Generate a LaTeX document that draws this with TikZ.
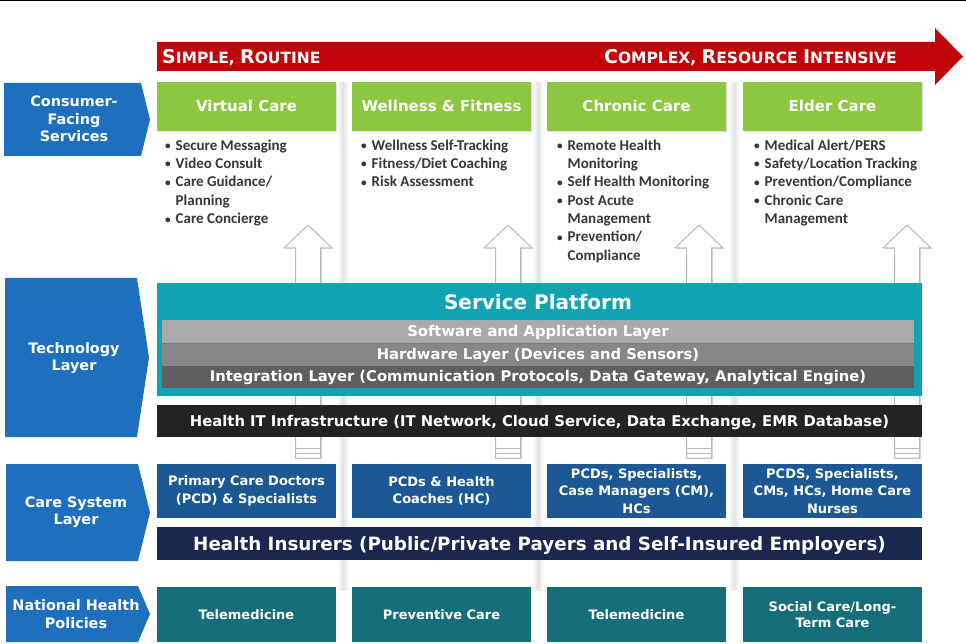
\documentclass[tikz,border=0pt]{standalone}
\usepackage{fontspec}
\setmainfont{DejaVu Sans}
\newfontfamily\carl{Carlito}
\usetikzlibrary{shadows}
\definecolor{redA}{RGB}{192,4,10}
\definecolor{greenA}{RGB}{141,198,63}
\definecolor{blueL}{RGB}{30,112,190}
\definecolor{tealP}{RGB}{18,163,178}
\definecolor{grayLa}{RGB}{170,170,170}
\definecolor{grayLb}{RGB}{135,135,135}
\definecolor{grayLc}{RGB}{95,95,95}
\definecolor{hitc}{RGB}{35,35,35}
\definecolor{careb}{RGB}{28,88,148}
\definecolor{insc}{RGB}{26,40,80}
\definecolor{polc}{RGB}{21,110,122}
\definecolor{bullc}{RGB}{55,55,55}
\newcommand\bigsc[1]{{\fontsize{19}{19}\selectfont #1}}
\newcommand\smsc[1]{{\fontsize{15.5}{15.5}\selectfont #1}}
\newcommand\bul{\makebox[10.5pt][l]{\raisebox{0.6pt}{\scalebox{0.75}{\textbullet}}}}
\newcommand\ind{\hspace*{10.5pt}}
\tikzset{
  hdr/.style={rectangle, fill=greenA, inner sep=0pt, minimum width=179, minimum height=49,
    text=white, font=\bfseries\fontsize{15}{18}\selectfont, text height=11pt, text depth=0pt,
    drop shadow={shadow xshift=1.2pt, shadow yshift=-1.2pt, opacity=0.25}},
  bultxt/.style={anchor=north west, inner sep=0pt, align=left, text=bullc,
    font=\carl\bfseries\fontsize{15}{18.35}\selectfont},
  lbltxt/.style={inner sep=0pt, align=center, text=white, font=\bfseries\fontsize{14.4}{17.5}\selectfont},
  lblshape/.style={fill=blueL},
  hollow/.style={draw=gray!55, fill=white, line width=1pt,
    drop shadow={shadow xshift=1.5pt, shadow yshift=-1pt, opacity=0.3}},
  layerbox/.style={rectangle, inner sep=0pt, minimum width=752, text=white,
    font=\bfseries\fontsize{14.75}{17}\selectfont, text height=10.8pt, text depth=0pt},
  widebar/.style={rectangle, inner sep=0pt, minimum width=765, text=white, text depth=0pt},
  carebox/.style={rectangle, fill=careb, inner sep=0pt, minimum width=179, minimum height=54,
    text=white, align=center, font=\bfseries\fontsize{13}{17.5}\selectfont},
  polbox/.style={rectangle, fill=polc, inner sep=0pt, minimum width=179, minimum height=55,
    text=white, align=center, font=\bfseries\fontsize{13}{16.5}\selectfont},
  toptxt/.style={inner sep=0pt, text=white, font=\bfseries}
}
\begin{document}
\begin{tikzpicture}[x=1pt,y=-1pt]
\useasboundingbox (0,0) rectangle (966,644);
\fill[white] (0,0) rectangle (966,644);
\fill[black] (0,0) rectangle (966,1.5);

% column shadow strips
\foreach \xx in {343,538,734}
  \shade[left color=white,right color=white,middle color=black!11] (\xx-6,83) rectangle (\xx+6,590);

% red progression arrow
\fill[redA] (157,42) -- (935,42) -- (935,28) -- (963,56.5) -- (935,85) -- (935,71) -- (157,71) -- cycle;
\node[toptxt, anchor=base west] (simple) at (162,63.5) {\bigsc{S}\smsc{IMPLE, }\bigsc{R}\smsc{OUTINE}};
\node[toptxt, anchor=base east] (complex) at (897,63.5) {\bigsc{C}\smsc{OMPLEX, }\bigsc{R}\smsc{ESOURCE }\bigsc{I}\smsc{NTENSIVE}};

% left labels
\fill[lblshape] (4,83) -- (141,83) -- (150,119.5) -- (141,156) -- (4,156) -- cycle;
\node[lbltxt] (lcons) at (74,119) {Consumer-\\Facing\\Services};
\fill[lblshape] (5,278) -- (137,278) -- (149,357.5) -- (137,437) -- (5,437) -- cycle;
\node[lbltxt] (ltech) at (74,358) {Technology\\Layer};
\fill[lblshape] (6,464) -- (138,464) -- (150,512.5) -- (138,561) -- (6,561) -- cycle;
\node[lbltxt] (lcare) at (76,512) {Care System\\Layer};
\fill[lblshape] (6,586) -- (138,586) -- (150,614) -- (138,642) -- (6,642) -- cycle;
\node[lbltxt] (lpol) at (76,614) {National Health\\Policies};

% green headers
\node[hdr] (vc) at (246.5,106.5) {Virtual Care};
\node[hdr] (wf) at (441.5,106.5) {Wellness \& Fitness};
\node[hdr] (cc) at (636.5,106.5) {Chronic Care};
\node[hdr] (ec) at (832.5,106.5) {Elder Care};

% bullet lists
\node[bultxt] (b1) at (165,139.5) {\bul Secure Messaging\\\bul Video Consult\\\bul Care Guidance/\\\ind Planning\\\bul Care Concierge};
\node[bultxt] (b2) at (361,139.5) {\bul Wellness Self-Tracking\\\bul Fitness/Diet Coaching\\\bul Risk Assessment};
\node[bultxt] (b3) at (557,139.5) {\bul Remote Health\\\ind Monitoring\\\bul Self Health Monitoring\\\bul Post Acute\\\ind Management\\\bul Prevention/\\\ind Compliance};
\node[bultxt] (b4) at (754,139.5) {\bul Medical Alert/PERS\\\bul Safety/Location Tracking\\\bul Prevention/Compliance\\\bul Chronic Care\\\ind Management};

% hollow up arrows
\foreach \c in {308,508,699,907} {
  \draw[hollow] (\c-12.5,458) -- (\c-12.5,248) -- (\c-24,248) -- (\c,225) -- (\c+24,248) -- (\c+12.5,248) -- (\c+12.5,458) -- cycle;
  \draw[gray!55, line width=0.8pt] (\c-12.5,448) -- (\c+12.5,448);
  \draw[gray!55, line width=0.8pt] (\c-12.5,453) -- (\c+12.5,453);
}

% service platform
\node[rectangle, fill=tealP, inner sep=0pt, minimum width=765, minimum height=113] (sp) at (539.5,339.5) {};
\node[inner sep=0pt, text=white, font=\bfseries\fontsize{20}{24}\selectfont, text height=14.6pt, text depth=0pt] (spt) at (538,302.5) {Service Platform};
\node[layerbox, fill=grayLa, minimum height=23] (sw) at (538,331.5) {Software and Application Layer};
\node[layerbox, fill=grayLb, minimum height=22] (hw) at (538,354.5) {Hardware Layer (Devices and Sensors)};
\node[layerbox, fill=grayLc, minimum height=22] (il) at (538,376.5) {Integration Layer (Communication Protocols, Data Gateway, Analytical Engine)};

% health IT infrastructure
\node[widebar, fill=hitc, minimum height=32, font=\bfseries\fontsize{14.8}{17}\selectfont, text height=10.8pt] (hit) at (539.5,421) {Health IT Infrastructure (IT Network, Cloud Service, Data Exchange, EMR Database)};

% care system layer
\node[carebox] (cs1) at (246.5,491) {Primary Care Doctors\\(PCD) \& Specialists};
\node[carebox] (cs2) at (441.5,491) {PCDs \& Health\\Coaches (HC)};
\node[carebox] (cs3) at (636.5,491) {PCDs, Specialists,\\Case Managers (CM),\\HCs};
\node[carebox] (cs4) at (832.5,491) {PCDS, Specialists,\\CMs, HCs, Home Care\\Nurses};
\node[widebar, fill=insc, minimum height=33, font=\bfseries\fontsize{18.3}{21}\selectfont, text height=13.3pt] (ins) at (539.5,543.5) {Health Insurers (Public/Private Payers and Self-Insured Employers)};

% national health policies
\node[polbox] (np1) at (246.5,614.5) {Telemedicine};
\node[polbox] (np2) at (441.5,614.5) {Preventive Care};
\node[polbox] (np3) at (636.5,614.5) {Telemedicine};
\node[polbox] (np4) at (832.5,614.5) {Social Care/Long-\\Term Care};
\end{tikzpicture}
\end{document}
